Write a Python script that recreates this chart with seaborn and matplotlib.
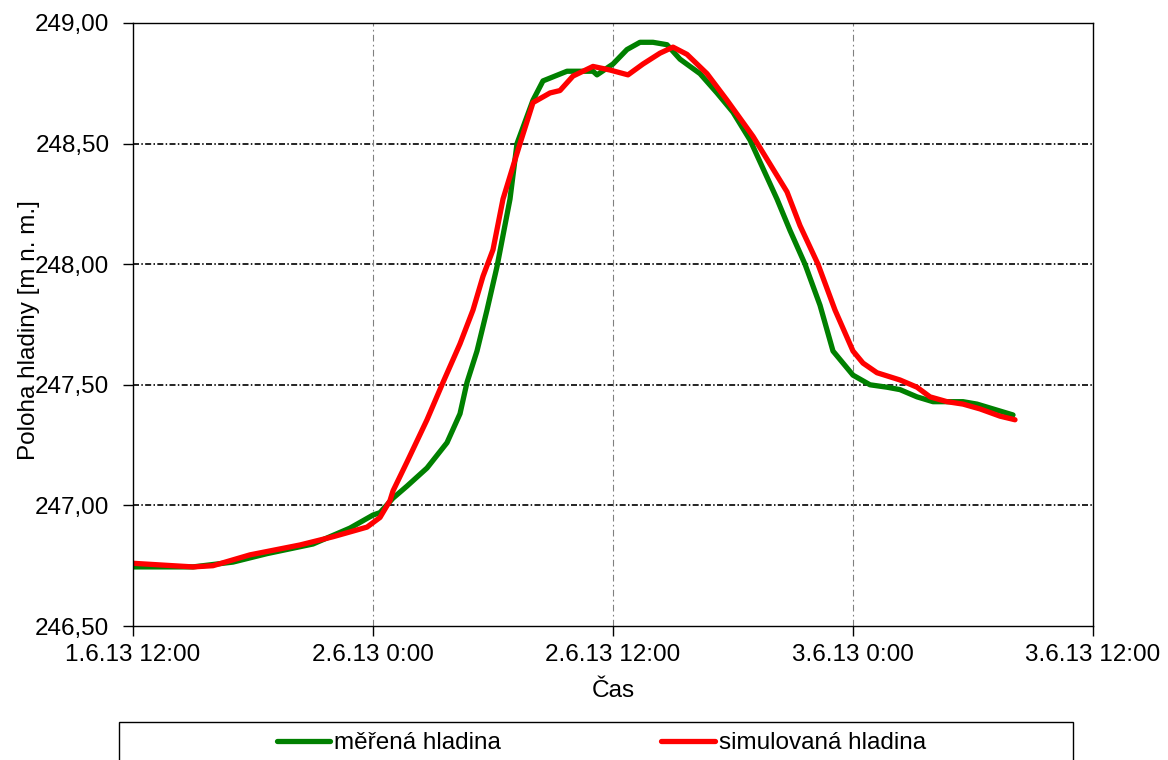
import numpy as np
import pandas as pd
import matplotlib
matplotlib.use("Agg")
import matplotlib.pyplot as plt
import matplotlib.dates as mdates
from matplotlib.ticker import FuncFormatter
from matplotlib.patches import Rectangle
import seaborn as sns

# ---- data (hours after 1.6.2013 12:00, water level m n. m.) ----
start_time = "2013-06-01 12:00"
measured_hours = [0, 3, 5, 6.7, 9, 10.85, 12, 12.35, 13, 13.7, 14.7, 15.7, 16.35, 16.7,
                  17.2, 17.7, 18.2, 18.85, 19.2, 20, 20.5, 21.7, 23, 23.2, 24, 24.7,
                  25.35, 26, 26.7, 27.35, 28.35, 29.2, 30, 30.85, 32.2, 32.85, 33.6,
                  34.35, 35, 35.5, 36, 36.85, 37.7, 38.35, 39.2, 40, 41.5, 42.2, 43, 44]
measured_level = [246.745, 246.745, 246.765, 246.80, 246.84, 246.906, 246.96, 246.97,
                  247.03, 247.08, 247.155, 247.26, 247.38, 247.51, 247.64, 247.81,
                  247.99, 248.27, 248.50, 248.68, 248.76, 248.80, 248.80, 248.785,
                  248.83, 248.89, 248.92, 248.92, 248.91, 248.85, 248.79, 248.71,
                  248.63, 248.515, 248.27, 248.14, 248.00, 247.83, 247.64, 247.59,
                  247.54, 247.50, 247.49, 247.48, 247.45, 247.43, 247.43, 247.42,
                  247.40, 247.375]
simulated_hours = [0, 3, 4, 5.85, 8.35, 10, 11.7, 12.35, 12.85, 13, 13.7, 14.7, 15.5,
                   16.35, 17, 17.5, 18, 18.5, 19.35, 20, 20.85, 21.35, 22, 23, 23.85,
                   24.75, 25.5, 26.35, 27, 27.7, 28.7, 29.7, 31, 32.7, 33.35, 34.25,
                   35.1, 36, 36.5, 37.2, 38.35, 39.2, 39.85, 40.7, 41.5, 42.35, 43.35, 44.1]
simulated_level = [246.76, 246.745, 246.75, 246.795, 246.836, 246.87, 246.91, 246.95,
                   247.02, 247.06, 247.18, 247.355, 247.51, 247.67, 247.81, 247.95,
                   248.06, 248.27, 248.50, 248.67, 248.71, 248.72, 248.78, 248.82,
                   248.805, 248.785, 248.83, 248.875, 248.90, 248.87, 248.79, 248.68,
                   248.53, 248.30, 248.16, 248.00, 247.81, 247.64, 247.59, 247.55,
                   247.52, 247.49, 247.45, 247.43, 247.42, 247.40, 247.37, 247.355]
series_labels = ["měřená hladina", "simulovaná hladina"]
y_ticks = [246.5, 247.0, 247.5, 248.0, 248.5, 249.0]
x_tick_hours = [0, 12, 24, 36, 48]

t0 = pd.Timestamp(start_time)
df_meas = pd.DataFrame({"cas": t0 + pd.to_timedelta(measured_hours, unit="h"),
                        "hladina": measured_level})
df_sim = pd.DataFrame({"cas": t0 + pd.to_timedelta(simulated_hours, unit="h"),
                       "hladina": simulated_level})

sns.set_style("white")
plt.rcParams["font.family"] = ["Liberation Sans", "DejaVu Sans"]
plt.rcParams["text.color"] = "black"
plt.rcParams["axes.labelcolor"] = "black"

fig = plt.figure(figsize=(11.68, 7.6), dpi=100)
ax = fig.add_axes([133 / 1168, 1 - 626 / 760, 960 / 1168, 603 / 760])

sns.lineplot(data=df_meas, x="cas", y="hladina", ax=ax, color="#008000",
             linewidth=3.8, label=series_labels[0], legend=False)
sns.lineplot(data=df_sim, x="cas", y="hladina", ax=ax, color="#FF0000",
             linewidth=3.8, label=series_labels[1], legend=False)

# axes limits & ticks
ax.set_ylim(246.5, 249.0)
ax.set_yticks(y_ticks)
xt = [t0 + pd.Timedelta(hours=h) for h in x_tick_hours]
ax.set_xlim(xt[0], xt[-1])
ax.set_xticks(xt)


def xfmt(v, pos):
    d = mdates.num2date(v)
    return f"{d.day}.{d.month}.{d.strftime('%y')} {d.hour}:{d.minute:02d}"


ax.xaxis.set_major_formatter(FuncFormatter(xfmt))
ax.yaxis.set_major_formatter(FuncFormatter(lambda v, p: f"{v:.2f}".replace(".", ",")))

fs = 17.5
ax.tick_params(axis="y", direction="out", length=7, width=1, pad=10,
               labelsize=fs, colors="black", left=True)
ax.tick_params(axis="x", direction="out", length=7, width=1, pad=6,
               labelsize=fs, colors="black", bottom=True)

for s in ax.spines.values():
    s.set_visible(True)
    s.set_color("black")
    s.set_linewidth(1.0)

# grid
for yv in y_ticks[1:-1]:
    ax.axhline(yv, color="black", linewidth=1.2, linestyle=(0, (3.6, 1.4, 0.9, 1.4)), zorder=0)
for h in x_tick_hours[1:-1]:
    ax.axvline(t0 + pd.Timedelta(hours=h), color="#808080", linewidth=0.8,
               linestyle=(0, (6, 3, 1.5, 3)), zorder=0)

ax.set_xlabel("Čas", fontsize=fs, color="black")
ax.set_ylabel("Poloha hladiny [m n. m.]", fontsize=fs, color="black")
ax.xaxis.set_label_coords(0.5, -0.090)
ax.yaxis.set_label_coords(-0.097, 0.49)

# legend box
fig.patches.append(Rectangle((119 / 1168, -0.05), (1073 - 119) / 1168, (760 - 722) / 760 + 0.05,
                             transform=fig.transFigure, fill=False, edgecolor="black",
                             linewidth=1.0, clip_on=False))
handles, labels = ax.get_legend_handles_labels()
leg = fig.legend(handles, labels, ncol=2, loc="center left",
                 bbox_to_anchor=(277 / 1168, 1 - 743 / 760), frameon=False,
                 fontsize=fs, handlelength=2.2, handletextpad=0.15,
                 columnspacing=6.6, borderpad=0, borderaxespad=0)
for t in leg.get_texts():
    t.set_color("black")

fig.savefig("out.png", dpi=100)
